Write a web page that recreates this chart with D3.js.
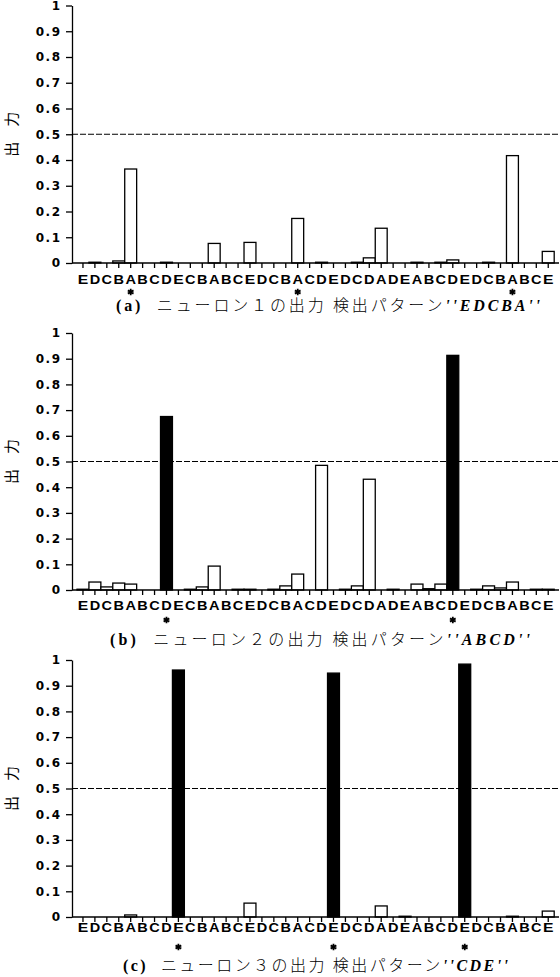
<!DOCTYPE html>
<html>
<head>
<meta charset="utf-8">
<script src="https://cdnjs.cloudflare.com/ajax/libs/d3/7.8.5/d3.min.js"></script>
<style>
  body { margin: 0; background: #fff; }
</style>
</head>
<body>
<div id="graf"></div>
<script>
// input sequence along the x axis
var letras = ["E","D","C","B","A","B","C","D","E","C",
              "B","A","B","C","E","D","C","B","A","C",
              "D","E","D","C","D","A","D","E","A","B",
              "C","D","E","D","C","B","A","B","C","E"];

// neuron outputs, one value per letter
var salida1 = [0,0.003,0,0.008,0.365,0,0,0.003,0,0,
               0,0.076,0,0,0.08,0,0,0,0.173,0,
               0.003,0,0,0.003,0.02,0.135,0,0,0.003,0,
               0.003,0.012,0,0,0.003,0,0.417,0,0,0.045];
var salida2 = [0.003,0.031,0.012,0.027,0.023,0,0,0.675,0,0.003,
               0.012,0.093,0,0.003,0.003,0,0.003,0.016,0.062,0,
               0.485,0,0.003,0.016,0.431,0,0.003,0,0.023,0.005,
               0.023,0.913,0,0.003,0.016,0.008,0.031,0,0.003,0.003];
var salida3 = [0,0,0,0,0.008,0,0,0,0.961,0,
               0,0,0,0,0.054,0,0,0,0,0,
               0,0.949,0,0,0,0.043,0,0.003,0,0,
               0,0,0.984,0,0,0,0.003,0,0,0.023];

// positions of the "*" marks (end of the target pattern)
var estrellas1 = [4, 18, 36];
var estrellas2 = [7, 31];
var estrellas3 = [8, 21, 32];

// captions
var etiquetas = ["(a)", "(b)", "(c)"];
var titulos = ["ニューロン１の出力 検出パターン", "ニューロン２の出力 検出パターン", "ニューロン３の出力 検出パターン"];
var patrones = ["EDCBA", "ABCD", "CDE"];

// y ticks
var marcasY = [0,0.1,0.2,0.3,0.4,0.5,0.6,0.7,0.8,0.9,1];
var etiquetasY = ["0","0.1","0.2","0.3","0.4","0.5","0.6","0.7","0.8","0.9","1"];
var umbral = 0.5;
var tituloY = "出　力";

function draw() {
  var ancho = 560;
  var alto = 977;

  // layout of the three panels (pixels)
  var arriba = [5.5, 333, 660];
  var abajo = [263, 590, 917];
  var yLetra = [283.5, 610, 932];
  var yEstrella = [292, 620, 947];
  var yTitulo = [311, 645, 971];
  var xTitulo = [116, 110, 123];
  var largoTitulo = [424, 420, 385];

  var datos = [salida1, salida2, salida3];
  var marcas = [estrellas1, estrellas2, estrellas3];

  var svg = d3.select("#graf")
    .append("svg")
    .attr("width", ancho)
    .attr("height", alto);

  var x = d3.scaleBand()
    .domain(d3.range(letras.length))
    .range([77, 554.2])
    .padding(0);

  datos.forEach(function(valores, k) {
    var y = d3.scaleLinear()
      .domain([0, 1])
      .range([abajo[k], arriba[k]]);

    var g = svg.append("g");

    // dashed threshold line
    g.append("line")
      .attr("x1", 72)
      .attr("x2", 559)
      .attr("y1", y(umbral))
      .attr("y2", y(umbral))
      .attr("stroke", "black")
      .attr("stroke-width", 1)
      .attr("stroke-dasharray", "6,2");

    // bars
    g.selectAll("rect")
      .data(valores)
      .enter()
      .append("rect")
      .attr("x", function(d, i) { return x(i); })
      .attr("width", x.bandwidth())
      .attr("y", function(d) { return y(d); })
      .attr("height", function(d) { return y(0) - y(d); })
      .attr("fill", function(d) { return d > umbral ? "black" : "white"; })
      .attr("stroke", function(d) { return d > 0 ? "black" : "none"; })
      .attr("stroke-width", 1.3);

    // y axis
    var ejeY = g.append("g")
      .attr("transform", "translate(72,0)")
      .call(d3.axisLeft(y)
        .tickValues(marcasY)
        .tickFormat(function(d, i) { return etiquetasY[i]; })
        .tickSize(6)
        .tickSizeOuter(0));
    ejeY.select(".domain").attr("stroke", "black").attr("stroke-width", 1.3);
    ejeY.selectAll("line").attr("stroke", "black").attr("stroke-width", 1.3);
    ejeY.selectAll("text")
      .attr("x", -10.5)
      .attr("font-family", "DejaVu Sans")
      .attr("font-weight", "bold")
      .attr("font-size", "12px")
      .attr("letter-spacing", "1.5px")
      .attr("fill", "black");

    // x axis
    var ejeX = g.append("g")
      .attr("transform", "translate(0," + y(0) + ")")
      .call(d3.axisBottom(x)
        .tickFormat(function(i) { return letras[i]; })
        .tickSize(5)
        .tickSizeOuter(0));
    ejeX.select(".domain").remove();
    ejeX.selectAll("line").attr("stroke", "black").attr("stroke-width", 1.3);
    ejeX.selectAll("text")
      .attr("y", yLetra[k] - abajo[k])
      .attr("dy", 0)
      .attr("font-family", "Liberation Sans")
      .attr("font-weight", "bold")
      .attr("font-size", "12.5px")
      .attr("textLength", 10.5)
      .attr("lengthAdjust", "spacingAndGlyphs")
      .attr("fill", "black");
    g.append("line")
      .attr("x1", 72)
      .attr("x2", 559)
      .attr("y1", y(0))
      .attr("y2", y(0))
      .attr("stroke", "black")
      .attr("stroke-width", 1.3);

    // "*" under the detected patterns
    g.selectAll(".estrella")
      .data(marcas[k])
      .enter()
      .append("path")
      .attr("class", "estrella")
      .attr("d", d3.symbol(d3.symbolAsterisk, 30))
      .attr("transform", function(d) {
        return "translate(" + (x(d) + x.bandwidth() / 2) + "," + yEstrella[k] + ")";
      })
      .attr("stroke", "black")
      .attr("stroke-width", 1.8);

    // y label
    g.append("text")
      .text(tituloY)
      .attr("transform", "translate(17," + ((arriba[k] + abajo[k]) / 2) + ") rotate(-90)")
      .style("text-anchor", "middle")
      .attr("font-family", "Noto Sans CJK JP")
      .attr("font-size", "15px")
      .attr("fill", "black");

    // caption
    var t = g.append("text")
      .attr("x", xTitulo[k])
      .attr("y", yTitulo[k])
      .attr("textLength", largoTitulo[k])
      .attr("lengthAdjust", "spacing")
      .attr("font-size", "16px")
      .attr("fill", "black");
    t.append("tspan")
      .text(etiquetas[k] + "\u00a0\u00a0")
      .attr("font-family", "Liberation Serif")
      .attr("font-weight", "bold");
    t.append("tspan")
      .text(titulos[k])
      .attr("font-family", "Noto Sans CJK JP")
      .attr("font-weight", 300);
    t.append("tspan")
      .text("''" + patrones[k] + "''")
      .attr("font-family", "Liberation Serif")
      .attr("font-style", "italic")
      .attr("font-weight", "bold");
  });
}

draw();
</script>
</body>
</html>
